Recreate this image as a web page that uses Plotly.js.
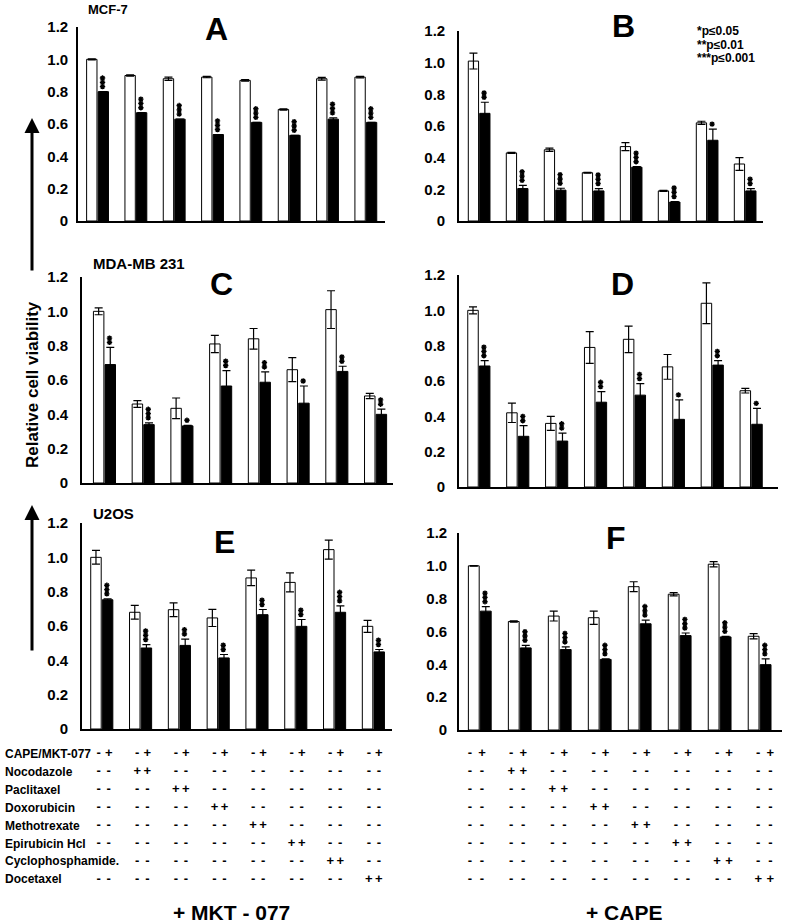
<!DOCTYPE html>
<html><head><meta charset="utf-8">
<script src="https://cdn.plot.ly/plotly-3.0.1.min.js"></script>
<style>html,body{margin:0;padding:0;background:#fff}#chart{width:787px;height:923px}</style>
</head><body><div id="chart"></div>
<script>
// ---------- DATA ----------
const drugs = ["Control","Nocodazole","Paclitaxel","Doxorubicin","Methotrexate","Epirubicin Hcl","Cyclophosphamide","Docetaxel"];
const treatmentRows = ["CAPE/MKT-077","Nocodazole","Paclitaxel","Doxorubicin","Methotrexate","Epirubicin Hcl","Cyclophosphamide.","Docetaxel"];
const signRowsLeft = [
  ["-+","-+","-+","-+","-+","-+","-+","-+"],
  ["--","++","--","--","--","--","--","--"],
  ["--","--","++","--","--","--","--","--"],
  ["--","--","--","++","--","--","--","--"],
  ["--","--","--","--","++","--","--","--"],
  ["--","--","--","--","--","++","--","--"],
  ["",  "--","--","--","--","--","++","--"],
  ["--","--","--","--","--","--","--","++"]
];
const signRowsRight = [
  ["-+","-+","-+","-+","-+","-+","-+","-+"],
  ["--","++","--","--","--","--","--","--"],
  ["--","--","++","--","--","--","--","--"],
  ["--","--","--","++","--","--","--","--"],
  ["--","--","--","--","++","--","--","--"],
  ["--","--","--","--","--","++","--","--"],
  ["--","--","--","--","--","--","++","--"],
  ["--","--","--","--","--","--","--","++"]
];
const yTickVals = [0,0.2,0.4,0.6,0.8,1.0,1.2];
const yTickText = ["0","0.2","0.4","0.6","0.8","1.0","1.2"];
const sigLegend = ["*p\u22640.05","**p\u22640.01","***p\u22640.001"];
const cellLines = ["MCF-7","MDA-MB 231","U2OS"];
const footers = ["+ MKT - 077","+ CAPE"];

// Panel A (MCF-7 + MKT-077)
const ctrlA    = [1.00,0.90,0.88,0.89,0.87,0.69,0.88,0.89];
const ctrlErrA = [0.003,0.004,0.010,0.004,0.005,0.004,0.008,0.005];
const comboA    = [0.80,0.67,0.63,0.535,0.61,0.53,0.63,0.61];
const comboErrA = [0,0,0,0,0,0,0.008,0];
const starsA = ["***","***","***","***","***","***","***","***"];

// Panel B (MCF-7 + CAPE)
const ctrlB    = [1.01,0.43,0.45,0.305,0.47,0.19,0.62,0.36];
const ctrlErrB = [0.05,0.003,0.01,0.003,0.025,0.003,0.01,0.04];
const comboB    = [0.68,0.205,0.195,0.19,0.34,0.12,0.51,0.19];
const comboErrB = [0.07,0.02,0.012,0.015,0.003,0.003,0.07,0.015];
const starsB = ["**","***","***","***","***","***","*","**"];

// Panel C (MDA-MB 231 + MKT-077)
const ctrlC    = [1.00,0.46,0.435,0.81,0.84,0.66,1.01,0.507];
const ctrlErrC = [0.02,0.02,0.06,0.05,0.06,0.07,0.11,0.015];
const comboC    = [0.69,0.34,0.333,0.565,0.587,0.465,0.65,0.40];
const comboErrC = [0.10,0.01,0.003,0.09,0.06,0.10,0.03,0.03];
const starsC = ["**","***","*","**","**","*","**","**"];

// Panel D (MDA-MB 231 + CAPE)
const ctrlD    = [1.00,0.42,0.36,0.79,0.836,0.68,1.04,0.545];
const ctrlErrD = [0.02,0.055,0.04,0.09,0.075,0.07,0.115,0.013];
const comboD    = [0.685,0.287,0.26,0.48,0.52,0.383,0.69,0.355];
const comboErrD = [0.03,0.06,0.045,0.06,0.065,0.11,0.025,0.09];
const starsD = ["***","**","**","**","**","*","**","*"];

// Panel E (U2OS + MKT-077)
const ctrlE    = [1.00,0.68,0.695,0.647,0.88,0.854,1.045,0.598];
const ctrlErrE = [0.04,0.04,0.04,0.05,0.045,0.055,0.055,0.035];
const comboE    = [0.753,0.472,0.487,0.414,0.666,0.598,0.68,0.449];
const comboErrE = [0.005,0.02,0.037,0.02,0.03,0.04,0.037,0.014];
const starsE = ["***","***","**","**","**","**","***","**"];

// Panel F (U2OS + CAPE)
const ctrlF    = [1.00,0.661,0.694,0.684,0.873,0.827,1.01,0.571];
const ctrlErrF = [0.002,0.004,0.03,0.04,0.03,0.01,0.016,0.016];
const comboF    = [0.724,0.50,0.49,0.43,0.647,0.575,0.567,0.398];
const comboErrF = [0.027,0.016,0.016,0.003,0.022,0.016,0.003,0.035];
const starsF = ["***","***","***","***","***","***","***","***"];

// ---------- LAYOUT HELPERS ----------
const W = 787, H = 923;
const X = p => p / W;
const Y = p => 1 - p / H;
const FONT = "Liberation Sans, Arial, Helvetica, sans-serif";
const groupIdx = drugs.map((d, i) => i);

const panels = [
  {id:"",  ctrl:ctrlA, ctrlErr:ctrlErrA, combo:comboA, comboErr:comboErrA, stars:starsA, xd:[78,385],  xr:[-0.51,7.5],  yd:[221,27],  letter:"A", lx:216, ly:29,  stand:5},
  {id:"2", ctrl:ctrlB, ctrlErr:ctrlErrB, combo:comboB, comboErr:comboErrB, stars:starsB, xd:[459,763], xr:[-0.53,7.47], yd:[221,31],  letter:"B", lx:623, ly:26,  stand:9},
  {id:"3", ctrl:ctrlC, ctrlErr:ctrlErrC, combo:comboC, comboErr:comboErrC, stars:starsC, xd:[82,393],  xr:[-0.58,7.45], yd:[483,277], letter:"C", lx:222, ly:284, stand:9},
  {id:"4", ctrl:ctrlD, ctrlErr:ctrlErrD, combo:comboD, comboErr:comboErrD, stars:starsD, xd:[459,778], xr:[-0.51,7.69], yd:[487,275], letter:"D", lx:622, ly:284, stand:9},
  {id:"5", ctrl:ctrlE, ctrlErr:ctrlErrE, combo:comboE, comboErr:comboErrE, stars:starsE, xd:[82,392],  xr:[-0.51,7.48], yd:[729,523], letter:"E", lx:225, ly:542, stand:9},
  {id:"6", ctrl:ctrlF, ctrlErr:ctrlErrF, combo:comboF, comboErr:comboErrF, stars:starsF, xd:[459,782], xr:[-0.52,7.56], yd:[730,533], letter:"F", lx:616, ly:538, stand:7}
];

const traces = [];
const annotations = [];
const layout = {
  width: W, height: H,
  margin: {l:0, r:0, t:0, b:0},
  paper_bgcolor: "#fff", plot_bgcolor: "#fff",
  showlegend: false,
  barmode: "group",
  bargap: 0.4,
  bargroupgap: 0.1,
  font: {family: FONT, color: "#000"},
  annotations: annotations
};

panels.forEach(p => {
  const xa = "x" + p.id, ya = "y" + p.id;
  traces.push({
    type: "bar", x: groupIdx, y: p.ctrl, xaxis: xa, yaxis: ya, name: "control",
    marker: {color: "#fff", line: {color: "#000", width: 1}},
    error_y: {type: "data", array: p.ctrlErr, visible: true, color: "#000", thickness: 1.2, width: 4},
    hoverinfo: "none"
  });
  traces.push({
    type: "bar", x: groupIdx, y: p.combo, xaxis: xa, yaxis: ya, name: "combination",
    marker: {color: "#000", line: {color: "#000", width: 1}},
    error_y: {type: "data", array: p.comboErr, visible: true, color: "#000", thickness: 1.2, width: 4},
    hoverinfo: "none"
  });
  // significance stars as stacked asterisk markers above each black bar
  const perPx = 1.2 / (p.yd[0] - p.yd[1]);
  const sx = [], sy = [];
  p.stars.forEach((s, i) => {
    const base = p.combo[i] + p.comboErr[i];
    for (let j = 0; j < s.length; j++) {
      sx.push(i + 0.13);
      sy.push(base + (5 + j * 4.3) * perPx);
    }
  });
  traces.push({
    type: "scatter", mode: "markers", x: sx, y: sy, xaxis: xa, yaxis: ya, cliponaxis: false,
    marker: {symbol: "asterisk-open", size: 4.5, color: "#000", line: {color: "#000", width: 1.4}},
    hoverinfo: "none"
  });
  layout["xaxis" + p.id] = {
    domain: [X(p.xd[0]), X(p.xd[1])], range: p.xr, type: "linear",
    anchor: ya, showticklabels: false, ticks: "", showgrid: false, zeroline: false,
    showline: true, linecolor: "#000", linewidth: 1.8, fixedrange: true
  };
  layout["yaxis" + p.id] = {
    domain: [Y(p.yd[0]), Y(p.yd[1])], range: [0, 1.2],
    anchor: xa, tickvals: yTickVals, ticktext: yTickText, ticks: "",
    ticklabelstandoff: p.stand,
    tickfont: {family: FONT, size: 15, color: "#000", weight: "bold"},
    showgrid: false, zeroline: false, showline: true, linecolor: "#000", linewidth: 1.8, fixedrange: true
  };
  // panel letter
  annotations.push({xref: "paper", yref: "paper", x: X(p.lx), y: Y(p.ly), text: p.letter, showarrow: false,
    xanchor: "center", yanchor: "middle", font: {family: FONT, size: 32, color: "#000", weight: "bold"}});
});

// significance legend (panel B)
sigLegend.forEach((t, i) => {
  annotations.push({xref: "paper", yref: "paper", x: X(695), y: Y(31 + i * 13.5), text: t, showarrow: false,
    xanchor: "left", yanchor: "middle", font: {family: FONT, size: 12, color: "#000", weight: "bold"}});
});

// cell line labels
[[86, 10, 13], [91, 263, 15], [91, 513, 15]].forEach((pos, i) => {
  annotations.push({xref: "paper", yref: "paper", x: X(pos[0]), y: Y(pos[1]), text: cellLines[i], showarrow: false,
    xanchor: "left", yanchor: "middle", font: {family: FONT, size: pos[2], color: "#000", weight: "bold"}});
});

// y title
annotations.push({xref: "paper", yref: "paper", x: X(33), y: Y(385), text: "Relative cell viability", showarrow: false,
  textangle: -90, xanchor: "center", yanchor: "middle", font: {family: FONT, size: 17, color: "#000", weight: "bold"}});

// arrows
[[118, 154], [505, 147]].forEach(a => {
  annotations.push({xref: "paper", yref: "paper", x: X(32), y: Y(a[0]), ax: 0, ay: a[1], text: "",
    showarrow: true, arrowhead: 2, arrowsize: 1, arrowwidth: 3, arrowcolor: "#000"});
});

// treatment tables
const tables = [
  {id: "7", rows: signRowsLeft,  xd: [82, 392],  xr: [-0.562, 7.47], off: 0.13},
  {id: "8", rows: signRowsRight, xd: [459, 782], xr: [-0.413, 7.43], off: 0.146}
];
tables.forEach(t => {
  const xs = [], ys = [], txt = [];
  t.rows.forEach((row, r) => {
    row.forEach((pair, g) => {
      if (!pair) return;
      xs.push(g - t.off); ys.push(r); txt.push(pair[0]);
      xs.push(g + t.off); ys.push(r); txt.push(pair[1]);
    });
  });
  traces.push({type: "scatter", mode: "text", x: xs, y: ys, text: txt, xaxis: "x" + t.id, yaxis: "y" + t.id,
    textfont: {family: FONT, size: 13, color: "#000", weight: "bold"}, cliponaxis: false, hoverinfo: "none"});
  layout["xaxis" + t.id] = {domain: [X(t.xd[0]), X(t.xd[1])], range: t.xr, visible: false, anchor: "y" + t.id, fixedrange: true};
  layout["yaxis" + t.id] = {domain: [Y(888.3), Y(745)], range: [7.5, -0.5], visible: false, anchor: "x" + t.id, fixedrange: true};
});
treatmentRows.forEach((name, r) => {
  annotations.push({xref: "paper", yref: "y7", x: X(3), y: r, text: name, showarrow: false,
    xanchor: "left", yanchor: "middle", font: {family: FONT, size: 12, color: "#000", weight: "bold"}});
});

// footers
[[231, 912], [624, 912]].forEach((pos, i) => {
  annotations.push({xref: "paper", yref: "paper", x: X(pos[0]), y: Y(pos[1]), text: footers[i], showarrow: false,
    xanchor: "center", yanchor: "middle", font: {family: FONT, size: 21, color: "#000", weight: "bold"}});
});

Plotly.newPlot("chart", traces, layout, {staticPlot: true, displayModeBar: false});
</script>
</body></html>
